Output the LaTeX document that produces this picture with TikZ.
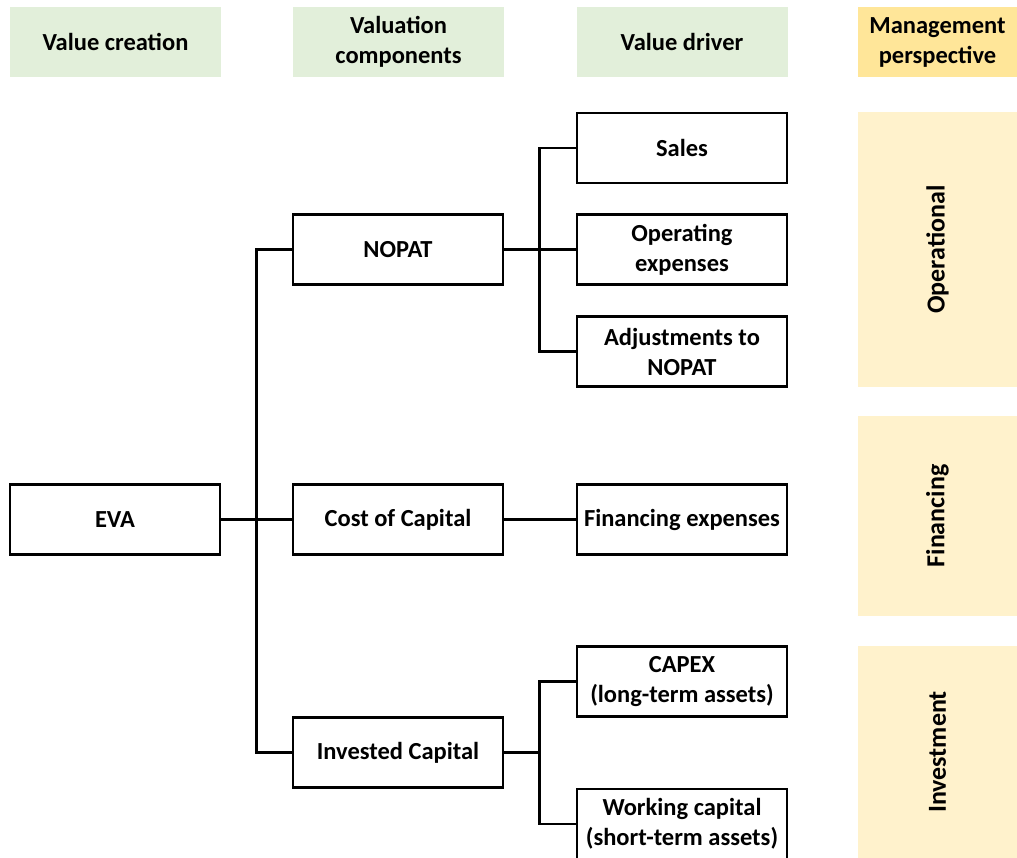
\documentclass[tikz,border=0pt]{standalone}
\usepackage{fontspec}
\setmainfont{Carlito}
\definecolor{headgreen}{HTML}{E2EFDA}
\definecolor{headyellow}{HTML}{FFE699}
\definecolor{panelyellow}{HTML}{FFF2CC}
\begin{document}
\begin{tikzpicture}[x=1pt,y=-1pt,
  txt/.style={font=\fontsize{24.5}{30}\selectfont\bfseries, align=center, text=black},
  side/.style={font=\fontsize{26}{30}\selectfont\bfseries, text=black, rotate=90},
  head/.style={txt, fill=headgreen, minimum width=211pt, minimum height=70pt, inner sep=0pt},
  mhead/.style={txt, fill=headyellow, minimum width=159pt, minimum height=70pt, inner sep=0pt},
  panel/.style={fill=panelyellow, minimum width=159pt, inner sep=0pt},
  box/.style={txt, draw=black, line width=2.6pt, fill=white, minimum width=210pt, minimum height=70pt, inner sep=0pt},
  link/.style={draw=black, line width=2.6pt}]
\useasboundingbox (0,0) rectangle (1017,858);

% column headers
\node[head] (h1) at (115.5,42) {Value creation};
\node[head] (h2) at (398.5,42) {Valuation\\components};
\node[head] (h3) at (682,42) {Value driver};
\node[mhead] (h4) at (937.5,42) {Management\\perspective};

% management perspective panels
\node[panel, minimum height=275pt] (p1) at (937.5,249.5) {};
\node[side] at (p1) {Operational};
\node[panel, minimum height=200pt] (p2) at (937.5,516) {};
\node[side] at (p2) {Financing};
\node[panel, minimum height=212pt] (p3) at (937.5,752) {};
\node[side] at (p3) {Investment};

% tree boxes
\node[box] (eva) at (115,519.5) {EVA};
\node[box] (nopat) at (398,249.5) {NOPAT};
\node[box] (coc) at (398,519.5) {Cost of Capital};
\node[box] (ic) at (398,752.5) {Invested Capital};
\node[box] (sales) at (682,148) {Sales};
\node[box] (opex) at (682,249.5) {Operating\\expenses};
\node[box] (adj) at (682,351.5) {Adjustments to\\NOPAT};
\node[box] (fin) at (682,519.5) {Financing expenses};
\node[box] (capex) at (682,681.5) {CAPEX\\(long-term assets)};
\node[box] (wc) at (682,824) {Working capital\\(short-term assets)};

% connectors
\draw[link] (eva.east) -- (coc.west);
\draw[link] (nopat.west) -- ++(-35,0) |- (ic.west);
\draw[link] (nopat.east) -- (opex.west);
\draw[link] (sales.west) -- ++(-36,0) |- (adj.west);
\draw[link] (coc.east) -- (fin.west);
\draw[link] (ic.east) -- ++(36,0);
\draw[link] (capex.west) -- ++(-36,0) |- (wc.west);
\end{tikzpicture}
\end{document}
